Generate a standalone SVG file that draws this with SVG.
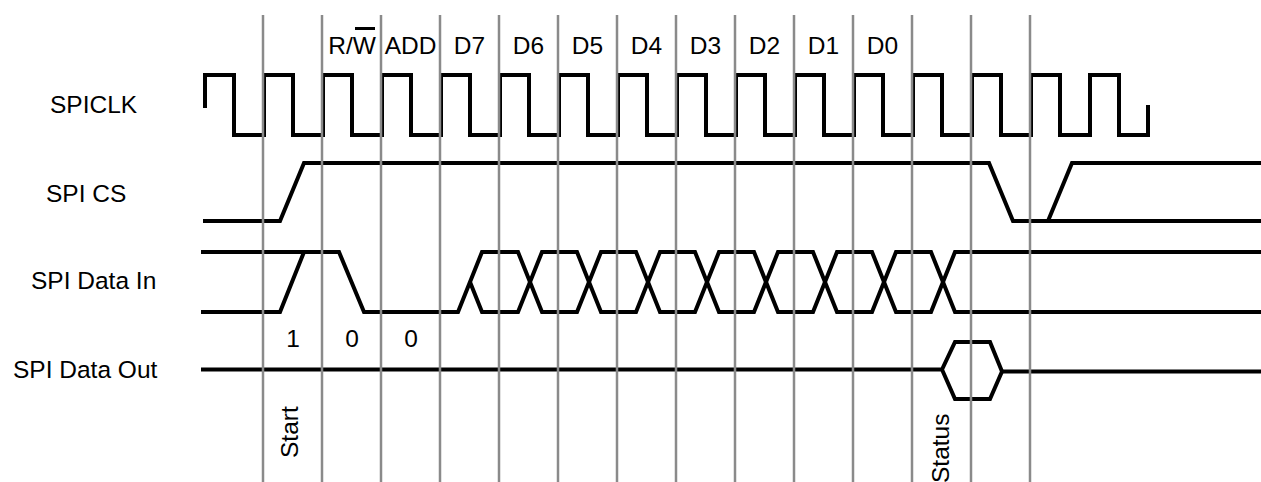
<svg xmlns="http://www.w3.org/2000/svg" width="1261" height="482" viewBox="0 0 1261 482">
<style>
.sig{fill:none;stroke:#000;stroke-width:4;stroke-linejoin:miter;stroke-linecap:butt}
.grid{stroke:#8a8a8a;stroke-width:2.5}
.lbl{font-family:"Liberation Sans",Arial,sans-serif;font-size:24.5px;fill:#000}
.mid{text-anchor:middle}
</style>
<rect width="1261" height="482" fill="#fff"/>
<g id="labels">
<text class="lbl" x="50" y="113">SPICLK</text>
<text class="lbl" x="46" y="202">SPI CS</text>
<text class="lbl" x="31" y="289">SPI Data In</text>
<text class="lbl" x="13" y="378">SPI Data Out</text>
</g>
<g id="bits">
<text class="lbl mid" x="352" y="54">R/W</text>
<line x1="355" y1="28.5" x2="375" y2="28.5" stroke="#000" stroke-width="3"/>
<text class="lbl mid" x="410.5" y="54">ADD</text>
<text class="lbl mid" x="469.5" y="54">D7</text>
<text class="lbl mid" x="528.5" y="54">D6</text>
<text class="lbl mid" x="587.5" y="54">D5</text>
<text class="lbl mid" x="646.5" y="54">D4</text>
<text class="lbl mid" x="705.5" y="54">D3</text>
<text class="lbl mid" x="764.5" y="54">D2</text>
<text class="lbl mid" x="823.5" y="54">D1</text>
<text class="lbl mid" x="882.5" y="54">D0</text>
<text class="lbl mid" x="293" y="347">1</text>
<text class="lbl mid" x="352" y="347">0</text>
<text class="lbl mid" x="411" y="347">0</text>
<text class="lbl" transform="translate(298,458) rotate(-90)">Start</text>
<text class="lbl" transform="translate(949,483) rotate(-90)">Status</text>
</g>
<g id="spiclk">
<path class="sig" d="M205,108 V75 H234 V135 H264 V75 H293 V135 H323 V75 H352 V135 H382 V75 H411 V135 H441 V75 H470 V135 H500 V75 H529 V135 H559 V75 H588 V135 H618 V75 H647 V135 H677 V75 H706 V135 H736 V75 H765 V135 H795 V75 H824 V135 H854 V75 H883 V135 H913 V75 H942 V135 H972 V75 H1001 V135 H1031 V75 H1060 V135 H1090 V75 H1119 V135 H1148 V105"/>
</g>
<g id="spics">
<path class="sig" d="M203,221 H280 L304,163 H989 L1013,221 H1261"/>
<path class="sig" d="M1048,221 L1072,163 H1261"/>
</g>
<g id="spidatain">
<path class="sig" d="M201,252 H339 L364,312 H458 L482,252 H518 L542,312 H577 L601,252 H636 L660,312 H695 L719,252 H754 L778,312 H813 L837,252 H872 L896,312 H931 L955,252 H1261"/>
<path class="sig" d="M201,312 H280 L304,252"/>
<path class="sig" d="M470,282 L482,312 H518 L542,252 H577 L601,312 H636 L660,252 H695 L719,312 H754 L778,252 H813 L837,312 H872 L896,252 H931 L955,312 H1261"/>
</g>
<g id="spidataout">
<path class="sig" d="M201,369.5 H942 L955,342 H990 L1002,371.5 L990,399 H955 L942,369.5"/>
<path class="sig" d="M1002,371.5 H1261"/>
</g>
<g id="connectors">
<line class="grid" x1="263" y1="15" x2="263" y2="482"/>
<line class="grid" x1="322" y1="15" x2="322" y2="482"/>
<line class="grid" x1="381" y1="15" x2="381" y2="482"/>
<line class="grid" x1="440" y1="15" x2="440" y2="482"/>
<line class="grid" x1="499" y1="15" x2="499" y2="482"/>
<line class="grid" x1="558" y1="15" x2="558" y2="482"/>
<line class="grid" x1="617" y1="15" x2="617" y2="482"/>
<line class="grid" x1="676" y1="15" x2="676" y2="482"/>
<line class="grid" x1="735" y1="15" x2="735" y2="482"/>
<line class="grid" x1="794" y1="15" x2="794" y2="482"/>
<line class="grid" x1="853" y1="15" x2="853" y2="482"/>
<line class="grid" x1="912" y1="15" x2="912" y2="482"/>
<line class="grid" x1="971" y1="15" x2="971" y2="482"/>
<line class="grid" x1="1030" y1="15" x2="1030" y2="482"/>
</g>
</svg>
